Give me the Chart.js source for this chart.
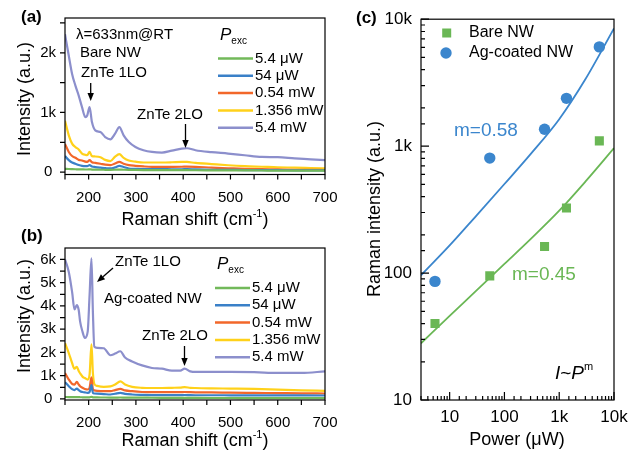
<!DOCTYPE html>
<html>
<head>
<meta charset="utf-8">
<script src="https://cdn.jsdelivr.net/npm/chart.js@4.4.1/dist/chart.umd.min.js"></script>
<style>
  body { margin: 0; background: #fff; }
  #wrap { position: relative; width: 641px; height: 460px; overflow: hidden; }
  #wrap canvas { position: absolute; left: 0; top: 0; }
</style>
</head>
<body>
<div id="wrap">
  <canvas id="chartA" width="641" height="460"></canvas>
  <canvas id="chartB" width="641" height="460"></canvas>
  <canvas id="chartC" width="641" height="460"></canvas>
</div>
<script>
// ---- (a) bare NW spectra, Raman shift in cm-1, intensity in counts
const shiftA = [150, 158, 165, 172, 179, 186, 193, 197, 202, 207, 214, 225, 235, 246, 256, 265, 274, 285, 299, 316,
                334, 355, 376, 397, 408, 426, 460, 495, 530, 566, 600, 636, 670, 700];
const bare5p4uW = [55, 52, 50, 48, 46, 45, 44, 44, 46, 43, 42, 40, 39, 38, 40, 43, 40, 37, 36, 35,
                   34, 33, 32, 32, 32, 31, 30, 29, 28, 27, 26, 26, 25, 25];
const bare54uW = [270, 200, 160, 140, 120, 105, 100, 100, 117, 95, 85, 75, 68, 61, 80, 105, 85, 61, 55, 50,
                  50, 50, 48, 48, 50, 45, 40, 38, 35, 33, 32, 30, 30, 30];
const bare0p54mW = [470, 338, 270, 240, 205, 195, 175, 172, 200, 165, 155, 140, 125, 117, 145, 172, 140, 117, 105, 95,
                    89, 89, 89, 90, 92, 89, 75, 65, 55, 50, 45, 40, 38, 35];
const bare1p356mW = [860, 617, 478, 420, 380, 311, 290, 283, 338, 267, 262, 250, 205, 185, 260, 300, 240, 195, 175, 161,
                     161, 161, 165, 172, 170, 155, 135, 115, 100, 90, 80, 75, 68, 62];
const bare5p4mW = [2310, 1950, 1645, 1450, 1283, 1089, 922, 950, 1090, 838, 700, 672, 588, 550, 645, 755, 617, 505, 422, 367,
                   338, 328, 360, 395, 400, 367, 335, 311, 283, 255, 250, 230, 215, 200];

// ---- (b) Ag-coated NW spectra
const shiftB = [150, 158, 165, 170, 175, 179, 182, 187, 192, 198, 202, 206, 209, 212, 218, 232, 246, 256, 267, 277,
                292, 313, 334, 355, 376, 394, 403, 415, 426, 460, 500, 550, 600, 650, 700];
const ag5p4uW = [85, 80, 78, 76, 78, 75, 74, 72, 70, 70, 72, 90, 70, 66, 65, 62, 60, 60, 62, 58,
                 56, 54, 52, 50, 48, 46, 46, 45, 44, 42, 40, 38, 36, 35, 34];
const ag54uW = [720, 547, 420, 380, 448, 380, 333, 300, 280, 265, 300, 600, 260, 235, 225, 210, 192, 225, 265, 220,
                192, 175, 165, 162, 162, 162, 170, 162, 160, 160, 158, 155, 152, 150, 148];
const ag0p54mW = [1119, 833, 650, 620, 734, 620, 547, 480, 430, 406, 478, 930, 420, 370, 350, 333, 333, 380, 435, 370,
                  333, 300, 290, 290, 290, 290, 300, 290, 285, 280, 270, 260, 250, 240, 235];
const ag1p356mW = [2400, 1973, 1546, 1300, 1380, 1200, 1100, 960, 900, 833, 1046, 2350, 1119, 650, 560, 520, 540, 620, 760, 620,
                   520, 478, 470, 470, 480, 490, 510, 480, 470, 455, 445, 430, 400, 370, 350];
const ag5p4mW = [6000, 5457, 4603, 3850, 4035, 3822, 3322, 2895, 2620, 2895, 4462, 6050, 3750, 2250, 2200, 2180, 1880, 1950, 2050, 1780,
                 1614, 1443, 1332, 1302, 1217, 1217, 1302, 1187, 1160, 1160, 1160, 1150, 1120, 1119, 1187];

const powerLabels = ['5.4 μW', '54 μW', '0.54 mW', '1.356 mW', '5.4 mW'];
const lineColors = ['#72b95a', '#3a80c8', '#f2672a', '#ffd11a', '#8c8fcc'];

// tick labels
const shiftTicks = [200, 300, 400, 500, 600, 700];
const intensityTicksA = [0, 1000, 2000];
const intensityTicksB = [0, 1000, 2000, 3000, 4000, 5000, 6000];

// ---- (c) Raman intensity vs power (μW)
const powers = [5.4, 54, 540, 1356, 5400];
const bareNW = [40, 95, 162, 326, 1100];
const agNW = [86, 805, 1360, 2380, 6050];
const fitPower = [3, 10, 30, 100, 300, 1000, 3000, 10000];
const fitBare = [28, 46, 72, 118, 185, 310, 525, 964];
const fitAg = [96, 165, 280, 503, 865, 1630, 3360, 8460];
const bareColor = '#6ab755';
const agColor = '#3b86cd';

const FONT = '"Liberation Sans", Arial, Helvetica, sans-serif';
Chart.defaults.font.family = FONT;
Chart.defaults.color = '#000';

function fontStr(p) {
    return (p.italic ? 'italic ' : '') + (p.bold ? 'bold ' : '') + p.size + 'px ' + FONT;
}

// draws a run of text pieces (sub/superscripts) with middle baseline
function richText(ctx, parts, x, y, align) {
    let w = 0;
    parts.forEach(p => { ctx.font = fontStr(p); w += ctx.measureText(p.t).width; });
    let cx = align === 'center' ? x - w / 2 : x;
    ctx.textAlign = 'left';
    ctx.textBaseline = 'middle';
    parts.forEach(p => {
        ctx.font = fontStr(p);
        ctx.fillStyle = p.color || '#000';
        ctx.fillText(p.t, cx, y + (p.dy || 0));
        cx += ctx.measureText(p.t).width;
    });
}

function arrow(ctx, x1, y1, x2, y2) {
    const ang = Math.atan2(y2 - y1, x2 - x1);
    const hl = 8, hw = 3.2;
    ctx.save();
    ctx.strokeStyle = '#000';
    ctx.fillStyle = '#000';
    ctx.lineWidth = 1.3;
    ctx.beginPath();
    ctx.moveTo(x1, y1);
    ctx.lineTo(x2 - Math.cos(ang) * hl, y2 - Math.sin(ang) * hl);
    ctx.stroke();
    ctx.beginPath();
    ctx.moveTo(x2, y2);
    ctx.lineTo(x2 - Math.cos(ang) * hl - Math.sin(ang) * hw, y2 - Math.sin(ang) * hl + Math.cos(ang) * hw);
    ctx.lineTo(x2 - Math.cos(ang) * hl + Math.sin(ang) * hw, y2 - Math.sin(ang) * hl - Math.cos(ang) * hw);
    ctx.closePath();
    ctx.fill();
    ctx.restore();
}

// frame + tick marks, drawn from the chart's own scales
function framePlugin(cfg) {
    return {
        id: 'frame',
        afterDraw(chart) {
            const {ctx, chartArea: a} = chart;
            const xs = chart.scales.x, ys = chart.scales.y;
            const sgn = cfg.inward ? 1 : -1;
            ctx.save();
            ctx.strokeStyle = '#000';
            ctx.lineWidth = 1.2;
            ctx.strokeRect(a.left, a.top, a.right - a.left, a.bottom - a.top);
            ctx.beginPath();
            const tickX = (v, len) => {
                const px = xs.getPixelForValue(v);
                ctx.moveTo(px, a.bottom);
                ctx.lineTo(px, a.bottom - sgn * len);
            };
            const tickY = (v, len) => {
                const py = ys.getPixelForValue(v);
                ctx.moveTo(a.left, py);
                ctx.lineTo(a.left + sgn * len, py);
            };
            if (cfg.log) {
                const isMajor = v => Math.abs(Math.log10(v) - Math.round(Math.log10(v))) < 1e-6;
                xs.ticks.forEach(t => tickX(t.value, isMajor(t.value) ? cfg.major : cfg.minor));
                ys.ticks.forEach(t => tickY(t.value, isMajor(t.value) ? cfg.major : cfg.minor));
            } else {
                for (let v = Math.ceil(xs.min / cfg.xStep) * cfg.xStep; v <= xs.max; v += cfg.xStep) tickX(v, cfg.major);
                for (let v = Math.ceil(ys.min / cfg.yStep) * cfg.yStep; v <= ys.max; v += cfg.yStep) tickY(v, cfg.major);
            }
            ctx.stroke();
            ctx.restore();
            if (cfg.extra) cfg.extra(chart, ctx);
        }
    };
}

function spectrumLegend(ctx, x, yTitle, yFirst, gap, datasets) {
    richText(ctx, [{t: 'P', size: 17, italic: true}, {t: 'exc', size: 10, dy: 6}], x + 2, yTitle, 'left');
    datasets.forEach((d, i) => {
        const y = yFirst + i * gap;
        ctx.save();
        ctx.strokeStyle = d.borderColor;
        ctx.lineWidth = 2.5;
        ctx.beginPath();
        ctx.moveTo(x, y);
        ctx.lineTo(x + 35, y);
        ctx.stroke();
        ctx.restore();
        richText(ctx, [{t: d.label, size: 15}], x + 37, y, 'left');
    });
}

function shiftTitle(ctx, x, y) {
    richText(ctx, [{t: 'Raman shift (cm', size: 18}, {t: '-1', size: 11, dy: -6}, {t: ')', size: 18}], x, y, 'center');
}

function rotatedTitle(ctx, text, x, y) {
    ctx.save();
    ctx.translate(x, y);
    ctx.rotate(-Math.PI / 2);
    richText(ctx, [{t: text, size: 18}], 0, 0, 'center');
    ctx.restore();
}

function spectrumChart(id, shifts, series, yMin, yMax, yTicks, area, extra) {
    const datasets = series.map((vals, i) => ({
        label: powerLabels[i],
        data: shifts.map((x, j) => ({x: x, y: vals[j]})),
        borderColor: lineColors[i],
        borderWidth: 2.2,
        pointRadius: 0,
        cubicInterpolationMode: 'monotone',
        fill: false
    }));
    return new Chart(document.getElementById(id), {
        type: 'line',
        data: {datasets: datasets},
        options: {
            responsive: false,
            animation: false,
            events: [],
            layout: {padding: {left: area.l - 50, top: area.t, right: 641 - area.r, bottom: 460 - area.b - 30}},
            plugins: {legend: {display: false}, tooltip: {enabled: false}},
            scales: {
                x: {
                    type: 'linear', min: 150, max: 700,
                    border: {display: false},
                    grid: {display: false, drawTicks: false},
                    afterBuildTicks: s => { s.ticks = shiftTicks.map(v => ({value: v})); },
                    ticks: {autoSkip: false, maxRotation: 0, padding: 14, font: {size: 15}},
                    afterFit: s => { s.height = 30; }
                },
                y: {
                    type: 'linear', min: yMin, max: yMax,
                    border: {display: false},
                    grid: {display: false, drawTicks: false},
                    afterBuildTicks: s => { s.ticks = yTicks.map(v => ({value: v})); },
                    ticks: {
                        autoSkip: false, crossAlign: 'center', padding: 9, font: {size: 15},
                        callback: v => v === 0 ? '0' : (v / 1000) + 'k'
                    },
                    afterFit: s => { s.width = 50; }
                }
            }
        },
        plugins: [framePlugin({inward: false, major: 5, xStep: 50, yStep: 500, extra: extra})]
    });
}

// (a)
spectrumChart('chartA', shiftA, [bare5p4uW, bare54uW, bare0p54mW, bare1p356mW, bare5p4mW], -40, 2583, intensityTicksA,
    {l: 65, t: 17, r: 325, b: 174.5},
    (chart, ctx) => {
        richText(ctx, [{t: '(a)', size: 17, bold: true}], 21, 17, 'left');
        richText(ctx, [{t: 'λ=633nm@RT', size: 15}], 76, 35, 'left');
        richText(ctx, [{t: 'Bare NW', size: 15}], 80, 53, 'left');
        richText(ctx, [{t: 'ZnTe 1LO', size: 15}], 81, 73, 'left');
        arrow(ctx, 90.7, 83, 90.7, 101);
        richText(ctx, [{t: 'ZnTe 2LO', size: 15}], 137, 115, 'left');
        arrow(ctx, 185.5, 124, 185.5, 148);
        spectrumLegend(ctx, 218, 35, 58.5, 17.3, chart.data.datasets);
        rotatedTitle(ctx, 'Intensity (a.u.)', 25, 99);
        shiftTitle(ctx, 195, 220);
    });

// (b)
spectrumChart('chartB', shiftB, [ag5p4uW, ag54uW, ag0p54mW, ag1p356mW, ag5p4mW], -45, 6490, intensityTicksB,
    {l: 65, t: 248, r: 325, b: 400},
    (chart, ctx) => {
        richText(ctx, [{t: '(b)', size: 17, bold: true}], 21, 236, 'left');
        richText(ctx, [{t: 'ZnTe 1LO', size: 15}], 115, 262, 'left');
        arrow(ctx, 113, 268, 97, 282);
        richText(ctx, [{t: 'Ag-coated NW', size: 15}], 104, 299, 'left');
        richText(ctx, [{t: 'ZnTe 2LO', size: 15}], 142, 336, 'left');
        arrow(ctx, 184.5, 346, 184.5, 366);
        spectrumLegend(ctx, 215, 264, 288, 17.3, chart.data.datasets);
        rotatedTitle(ctx, 'Intensity (a.u.)', 25, 316);
        shiftTitle(ctx, 195, 441);
    });

// (c)
const logLabel = v => {
    const l = Math.log10(v);
    if (Math.abs(l - Math.round(l)) > 1e-6) return '';
    return v >= 1000 ? (v / 1000) + 'k' : String(v);
};

new Chart(document.getElementById('chartC'), {
    type: 'scatter',
    data: {
        datasets: [
            {label: 'Bare NW', data: powers.map((x, i) => ({x: x, y: bareNW[i]})), pointStyle: 'rect',
             pointRadius: 6.4, backgroundColor: bareColor, borderWidth: 0, order: 0},
            {label: 'Ag-coated NW', data: powers.map((x, i) => ({x: x, y: agNW[i]})), pointStyle: 'circle',
             pointRadius: 5.7, backgroundColor: agColor, borderWidth: 0, order: 0},
            {label: 'fit bare', data: fitPower.map((x, i) => ({x: x, y: fitBare[i]})), showLine: true,
             borderColor: bareColor, borderWidth: 1.8, pointRadius: 0, cubicInterpolationMode: 'monotone', order: 1},
            {label: 'fit Ag', data: fitPower.map((x, i) => ({x: x, y: fitAg[i]})), showLine: true,
             borderColor: agColor, borderWidth: 1.8, pointRadius: 0, cubicInterpolationMode: 'monotone', order: 1}
        ]
    },
    options: {
        responsive: false,
        animation: false,
        events: [],
        layout: {padding: {left: 421 - 60, top: 18, right: 641 - 614, bottom: 460 - 400 - 40}},
        plugins: {legend: {display: false}, tooltip: {enabled: false}},
        scales: {
            x: {
                type: 'logarithmic', min: 3, max: 10000,
                border: {display: false},
                grid: {display: false, drawTicks: false},
                ticks: {autoSkip: false, maxRotation: 0, padding: 7, font: {size: 17}, callback: logLabel},
                afterFit: s => { s.height = 40; }
            },
            y: {
                type: 'logarithmic', min: 10, max: 10000,
                border: {display: false},
                grid: {display: false, drawTicks: false},
                ticks: {autoSkip: false, padding: 9, font: {size: 17}, callback: logLabel},
                afterFit: s => { s.width = 60; }
            }
        }
    },
    plugins: [framePlugin({inward: true, log: true, major: 8, minor: 4, extra: (chart, ctx) => {
        richText(ctx, [{t: '(c)', size: 17, bold: true}], 356, 18, 'left');
        // legend
        ctx.save();
        ctx.fillStyle = bareColor;
        ctx.fillRect(446.7 - 4.5, 33 - 4.5, 9, 9);
        ctx.fillStyle = agColor;
        ctx.beginPath();
        ctx.arc(446, 53, 5.7, 0, Math.PI * 2);
        ctx.fill();
        ctx.restore();
        richText(ctx, [{t: 'Bare NW', size: 16}], 469, 33, 'left');
        richText(ctx, [{t: 'Ag-coated NW', size: 16}], 469, 53, 'left');
        richText(ctx, [{t: 'm=0.58', size: 19, color: agColor}], 454, 131, 'left');
        richText(ctx, [{t: 'm=0.45', size: 19, color: bareColor}], 512, 275, 'left');
        richText(ctx, [{t: 'I', size: 19, italic: true}, {t: '~', size: 19}, {t: 'P', size: 19, italic: true},
                       {t: 'm', size: 11, dy: -7}], 555, 374, 'left');
        rotatedTitle(ctx, 'Raman intensity (a.u.)', 375, 209);
        richText(ctx, [{t: 'Power (μW)', size: 18}], 517, 440, 'center');
    }})]
});
</script>
</body>
</html>
